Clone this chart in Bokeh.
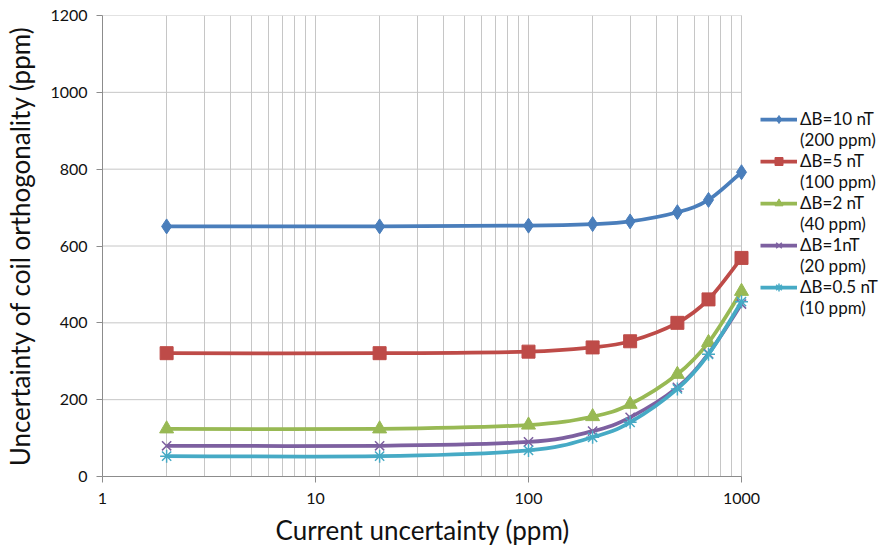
import numpy as np
from bokeh.plotting import figure
from bokeh.models import (Legend, LegendItem, LogTicker, FixedTicker, Title,
                          ColumnDataSource, NumeralTickFormatter)
from bokeh.embed import file_html
from bokeh.resources import INLINE

# Current uncertainty (ppm) on the log x axis
current_ppm = [2, 20, 100, 200, 300, 500, 700, 1000]

# Orthogonality uncertainty (ppm) for each field uncertainty
db_10nT = [651, 651, 653, 657, 664, 688, 720, 792]
db_5nT = [321, 321, 325, 336, 352, 400, 461, 569]
db_2nT = [124, 124, 134, 156, 188, 266, 349, 482]
db_1nT = [80, 80, 90, 118, 154, 232, 320, 449]
db_05nT = [53, 53, 68, 102, 141, 228, 318, 455]

labels_top = ["\u0394B=10 nT", "\u0394B=5 nT", "\u0394B=2 nT", "\u0394B=1nT", "\u0394B=0.5 nT"]
labels_bottom = ["(200 ppm)", "(100 ppm)", "(40 ppm)", "(20 ppm)", "(10 ppm)"]

x_min, x_max = 1, 1000
y_ticks = [0, 200, 400, 600, 800, 1000, 1200]

FONT = "Lato"
TEXT = "#111111"
GRID = "#c6c6c6"
AXIS = "#8c8c8c"

# values, colour, marker, size, marker line width
series = [
    (db_10nT, "#4a7ebb", "diamond", 15, 1),
    (db_5nT, "#be4b48", "square", 13, 1),
    (db_2nT, "#98b954", "triangle", 14, 1),
    (db_1nT, "#7d60a0", "x", 13, 1.5),
    (db_05nT, "#46aac5", "asterisk", 13, 1.5),
]

# The frame runs to the right edge so the legend can sit inside it;
# the data area (1..1000) keeps 639 px and the rest of the x range is legend space.
W, H = 886, 551
LEFT, TOP, BOTTOM = 102, 15, 75
DATA_PX = 639
frame_px = W - LEFT
x_end = 10 ** (np.log10(x_max) * frame_px / DATA_PX)

p = figure(
    width=W, height=H,
    x_axis_type="log", x_range=(x_min, x_end), y_range=(0, 1200),
    output_backend="svg", toolbar_location=None,
    min_border_left=LEFT, min_border_right=0,
    min_border_top=TOP, min_border_bottom=BOTTOM,
)
p.background_fill_color = "white"
p.border_fill_color = "white"
p.outline_line_color = None

# axes
p.xaxis.ticker = LogTicker(num_minor_ticks=10)
p.xaxis.formatter = NumeralTickFormatter(format="0")
p.xaxis.bounds = (x_min, x_max)
p.yaxis.ticker = FixedTicker(ticks=y_ticks)
for ax in (p.xaxis[0], p.yaxis[0]):
    ax.axis_line_color = AXIS
    ax.major_tick_line_color = AXIS
    ax.major_tick_in = 0
    ax.major_tick_out = 6
    ax.minor_tick_line_color = None
    ax.major_label_text_font = FONT
    ax.major_label_text_font_size = "16px"
    ax.major_label_text_color = TEXT
p.xaxis.major_label_standoff = 10
p.yaxis.major_label_standoff = 9
p.yaxis.axis_label = "Uncertainty of coil orthogonality (ppm)"
p.yaxis.axis_label_text_font = FONT
p.yaxis.axis_label_text_font_style = "normal"
p.yaxis.axis_label_text_color = TEXT
p.yaxis.axis_label_text_font_size = "26px"
p.yaxis.axis_label_standoff = 11

# x axis title, placed under the data area
p.add_layout(Title(text="Current uncertainty (ppm)", align="left", offset=173,
                   standoff=10, text_font=FONT, text_font_size="26px",
                   text_font_style="normal", text_color=TEXT), "below")

# grid: vertical lines follow the axis bounds, horizontal lines drawn over 1..1000
p.xgrid.grid_line_color = GRID
p.xgrid.minor_grid_line_color = GRID
p.ygrid.grid_line_color = None
p.segment(x0=[x_min] * len(y_ticks), x1=[x_max] * len(y_ticks),
          y0=y_ticks, y1=y_ticks, line_color=GRID, line_width=1, level="underlay")


def smooth_segments(xs, ys):
    """Cubic Bezier pieces through the points, computed in log10(x) space."""
    lx = np.log10(np.asarray(xs, dtype=float))
    yy = np.asarray(ys, dtype=float)
    n = len(lx)
    out = {k: [] for k in ("x0", "y0", "x1", "y1", "cx0", "cy0", "cx1", "cy1")}
    for i in range(n - 1):
        a = max(i - 1, 0)
        d = min(i + 2, n - 1)
        c0x = lx[i] + (lx[i + 1] - lx[a]) / 6.0
        c0y = yy[i] + (yy[i + 1] - yy[a]) / 6.0
        c1x = lx[i + 1] - (lx[d] - lx[i]) / 6.0
        c1y = yy[i + 1] - (yy[d] - yy[i]) / 6.0
        out["x0"].append(10 ** lx[i]); out["y0"].append(yy[i])
        out["x1"].append(10 ** lx[i + 1]); out["y1"].append(yy[i + 1])
        out["cx0"].append(10 ** c0x); out["cy0"].append(c0y)
        out["cx1"].append(10 ** c1x); out["cy1"].append(c1y)
    return ColumnDataSource(out)


items = []
for (vals, color, marker, size, mlw), top, bottom in zip(series, labels_top, labels_bottom):
    p.bezier(x0="x0", y0="y0", x1="x1", y1="y1", cx0="cx0", cy0="cy0",
             cx1="cx1", cy1="cy1", source=smooth_segments(current_ppm, vals),
             line_color=color, line_width=3.75)
    if marker in ("x", "asterisk"):
        pts = p.scatter(current_ppm, vals, marker=marker, size=size,
                        line_color=color, line_width=mlw)
    else:
        pts = p.scatter(current_ppm, vals, marker=marker, size=size,
                        fill_color=color, line_color=color)
    # legend swatch: a line (kept below the visible range) under the series marker
    swatch = p.line(x=[2, 2], y=[-50, -50], line_color=color, line_width=3.75)
    blank = p.line(x=[2, 2], y=[-50, -50], line_alpha=0)
    items.append(LegendItem(label=top, renderers=[swatch, pts]))
    items.append(LegendItem(label=bottom, renderers=[blank]))

legend = Legend(items=items, location=(658, 158))
legend.border_line_color = None
legend.background_fill_alpha = 0
legend.padding = 0
legend.margin = 0
legend.spacing = 0
legend.label_height = 20
legend.glyph_height = 20
legend.glyph_width = 37
legend.label_standoff = 3
legend.label_text_font = FONT
legend.label_text_font_size = "17px"
legend.label_text_color = TEXT
p.add_layout(legend, "center")

open("out.html", "w").write(file_html(p, INLINE))
